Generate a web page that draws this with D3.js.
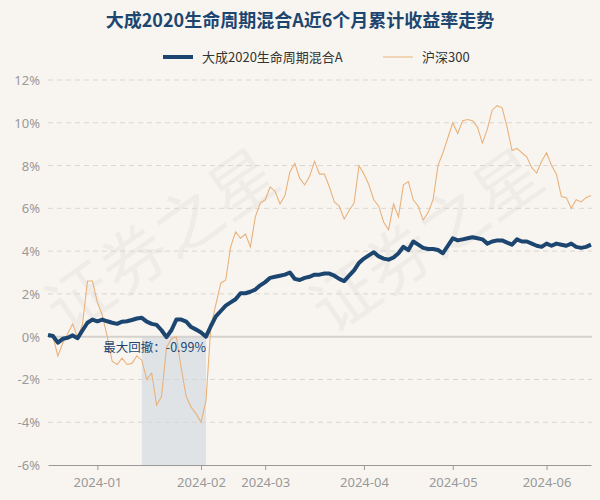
<!DOCTYPE html><html><head><meta charset="utf-8"><script src="https://cdn.jsdelivr.net/npm/d3@7"></script>
<style>body{margin:0;background:#f8f5f0}</style></head><body><svg id="c" width="600" height="500"></svg><script>
const fundName="大成2020生命周期混合A", indexName="沪深300";
const fund=[0.08,0.03,-0.28,-0.1,-0.05,0.06,-0.07,0.3,0.65,0.8,0.72,0.8,0.72,0.65,0.6,0.7,0.72,0.78,0.85,0.88,0.7,0.6,0.55,0.3,-0.02,0.3,0.8,0.8,0.7,0.45,0.33,0.2,0.0,0.5,0.95,1.2,1.45,1.6,1.75,2.03,2.03,2.1,2.2,2.4,2.55,2.75,2.8,2.85,2.9,3.0,2.7,2.65,2.75,2.8,2.9,2.9,2.95,2.95,2.85,2.7,2.6,2.85,3.1,3.45,3.65,3.8,3.95,3.75,3.65,3.6,3.7,3.9,4.2,4.05,4.45,4.3,4.15,4.1,4.1,4.05,3.9,4.25,4.6,4.5,4.55,4.6,4.65,4.6,4.55,4.35,4.45,4.5,4.5,4.4,4.3,4.55,4.45,4.45,4.35,4.25,4.2,4.35,4.25,4.35,4.3,4.25,4.35,4.2,4.15,4.2,4.3];
const hs300=[0.08,0.0,-0.9,-0.3,0.15,0.6,-0.05,0.6,2.6,2.6,1.6,1.0,0.0,-1.15,-1.3,-1.0,-1.3,-1.25,-0.9,-1.1,-2.0,-1.7,-3.2,-2.8,-0.5,-0.1,0.0,-1.5,-2.8,-3.3,-3.6,-4.0,-3.0,0.5,1.5,2.5,2.65,4.2,4.9,4.6,4.8,4.2,5.6,6.25,6.4,7.0,6.8,6.2,6.6,7.7,8.1,7.4,7.1,7.5,8.2,7.6,7.6,7.0,6.3,6.1,5.5,5.9,6.25,8.0,7.6,7.1,6.4,6.1,5.35,5.0,6.2,5.6,7.1,7.25,6.4,6.1,5.45,5.8,6.4,8.0,8.6,9.3,10.0,9.5,10.1,10.15,10.1,9.8,9.05,9.7,10.6,10.8,10.7,9.8,8.7,8.8,8.6,8.4,7.9,7.65,8.2,8.6,8.0,7.6,6.55,6.5,6.0,6.4,6.3,6.5,6.6];
const tickLabels=["2024-01","2024-02","2024-03","2024-04","2024-05","2024-06"];
const tickIdx=[10,31,44,64,82,101];
const yTicks=[-6,-4,-2,0,2,4,6,8,10,12];
const ddStart=19, ddEnd=32, ddLabel="最大回撤：-0.99%";
const svg=d3.select("#c");
svg.append("rect").attr("width",600).attr("height",500).attr("fill","#f8f5f0");
const x=d3.scaleLinear().domain([0,fund.length-1]).range([48,591]);
const y=d3.scaleLinear().domain([-6,12]).range([465,80]);
[[175,260],[440,260]].forEach(([a,b])=>svg.append("text").attr("transform",`translate(${a},${b}) rotate(-35)`).attr("text-anchor","middle").attr("font-size",66).attr("font-family","Noto Sans CJK SC").attr("fill","#000").attr("opacity",0.03).text("证券之星"));
svg.append("rect").attr("x",x(ddStart)).attr("width",x(ddEnd)-x(ddStart)).attr("y",y(0)).attr("height",y(-6)-y(0)).attr("fill","#dfe3e6");
yTicks.forEach(t=>{
 if(t>-6&&t!==0) svg.append("line").attr("x1",48).attr("x2",592).attr("y1",y(t)).attr("y2",y(t)).attr("stroke","#d9d6d2").attr("stroke-dasharray","5,4");
 svg.append("text").attr("x",40).attr("y",y(t)+5).attr("text-anchor","end").attr("font-size",13).attr("font-family","Noto Sans").attr("fill","#999").text(t+"%");
});
svg.append("line").attr("x1",48).attr("x2",592).attr("y1",y(0)).attr("y2",y(0)).attr("stroke","#d5d2ce").attr("stroke-width",2);
const ax=svg.append("g").attr("transform",`translate(0,${y(-6)})`).call(d3.axisBottom(x).tickValues(tickIdx).tickFormat((d,i)=>tickLabels[i]).tickSize(5).tickSizeOuter(0));
ax.select(".domain").attr("stroke","#999");ax.selectAll("line").attr("stroke","#999");
ax.selectAll("text").attr("font-size",13).attr("font-family","Noto Sans").attr("fill","#999").attr("dy","1.1em");
const line=d3.line().x((d,i)=>x(i)).y(d=>y(d));
svg.append("path").attr("d",line(hs300)).attr("fill","none").attr("stroke","#e9b27c").attr("stroke-width",1.1);
svg.append("path").attr("d",line(fund)).attr("fill","none").attr("stroke","#1c4670").attr("stroke-width",4).attr("stroke-linejoin","round");
svg.append("text").attr("x",x(ddEnd)).attr("y",y(0)+15).attr("text-anchor","end").attr("font-size",12.5).attr("font-family","Noto Sans CJK SC").attr("fill","#1c4670").text(ddLabel);
svg.append("text").attr("x",300).attr("y",27).attr("text-anchor","middle").attr("font-size",18).attr("font-weight","bold").attr("font-family","Noto Sans CJK SC").attr("fill","#1c4670").text(fundName+"近6个月累计收益率走势");
svg.append("line").attr("x1",163).attr("x2",193).attr("y1",57).attr("y2",57).attr("stroke","#1c4670").attr("stroke-width",4);
svg.append("text").attr("x",202).attr("y",62).attr("font-size",13).attr("font-family","Noto Sans CJK SC").attr("fill","#333").text(fundName);
svg.append("line").attr("x1",383).attr("x2",413).attr("y1",57).attr("y2",57).attr("stroke","#e9b27c").attr("stroke-width",1);
svg.append("text").attr("x",422).attr("y",62).attr("font-size",13).attr("font-family","Noto Sans CJK SC").attr("fill","#333").text(indexName);
</script></body></html>
